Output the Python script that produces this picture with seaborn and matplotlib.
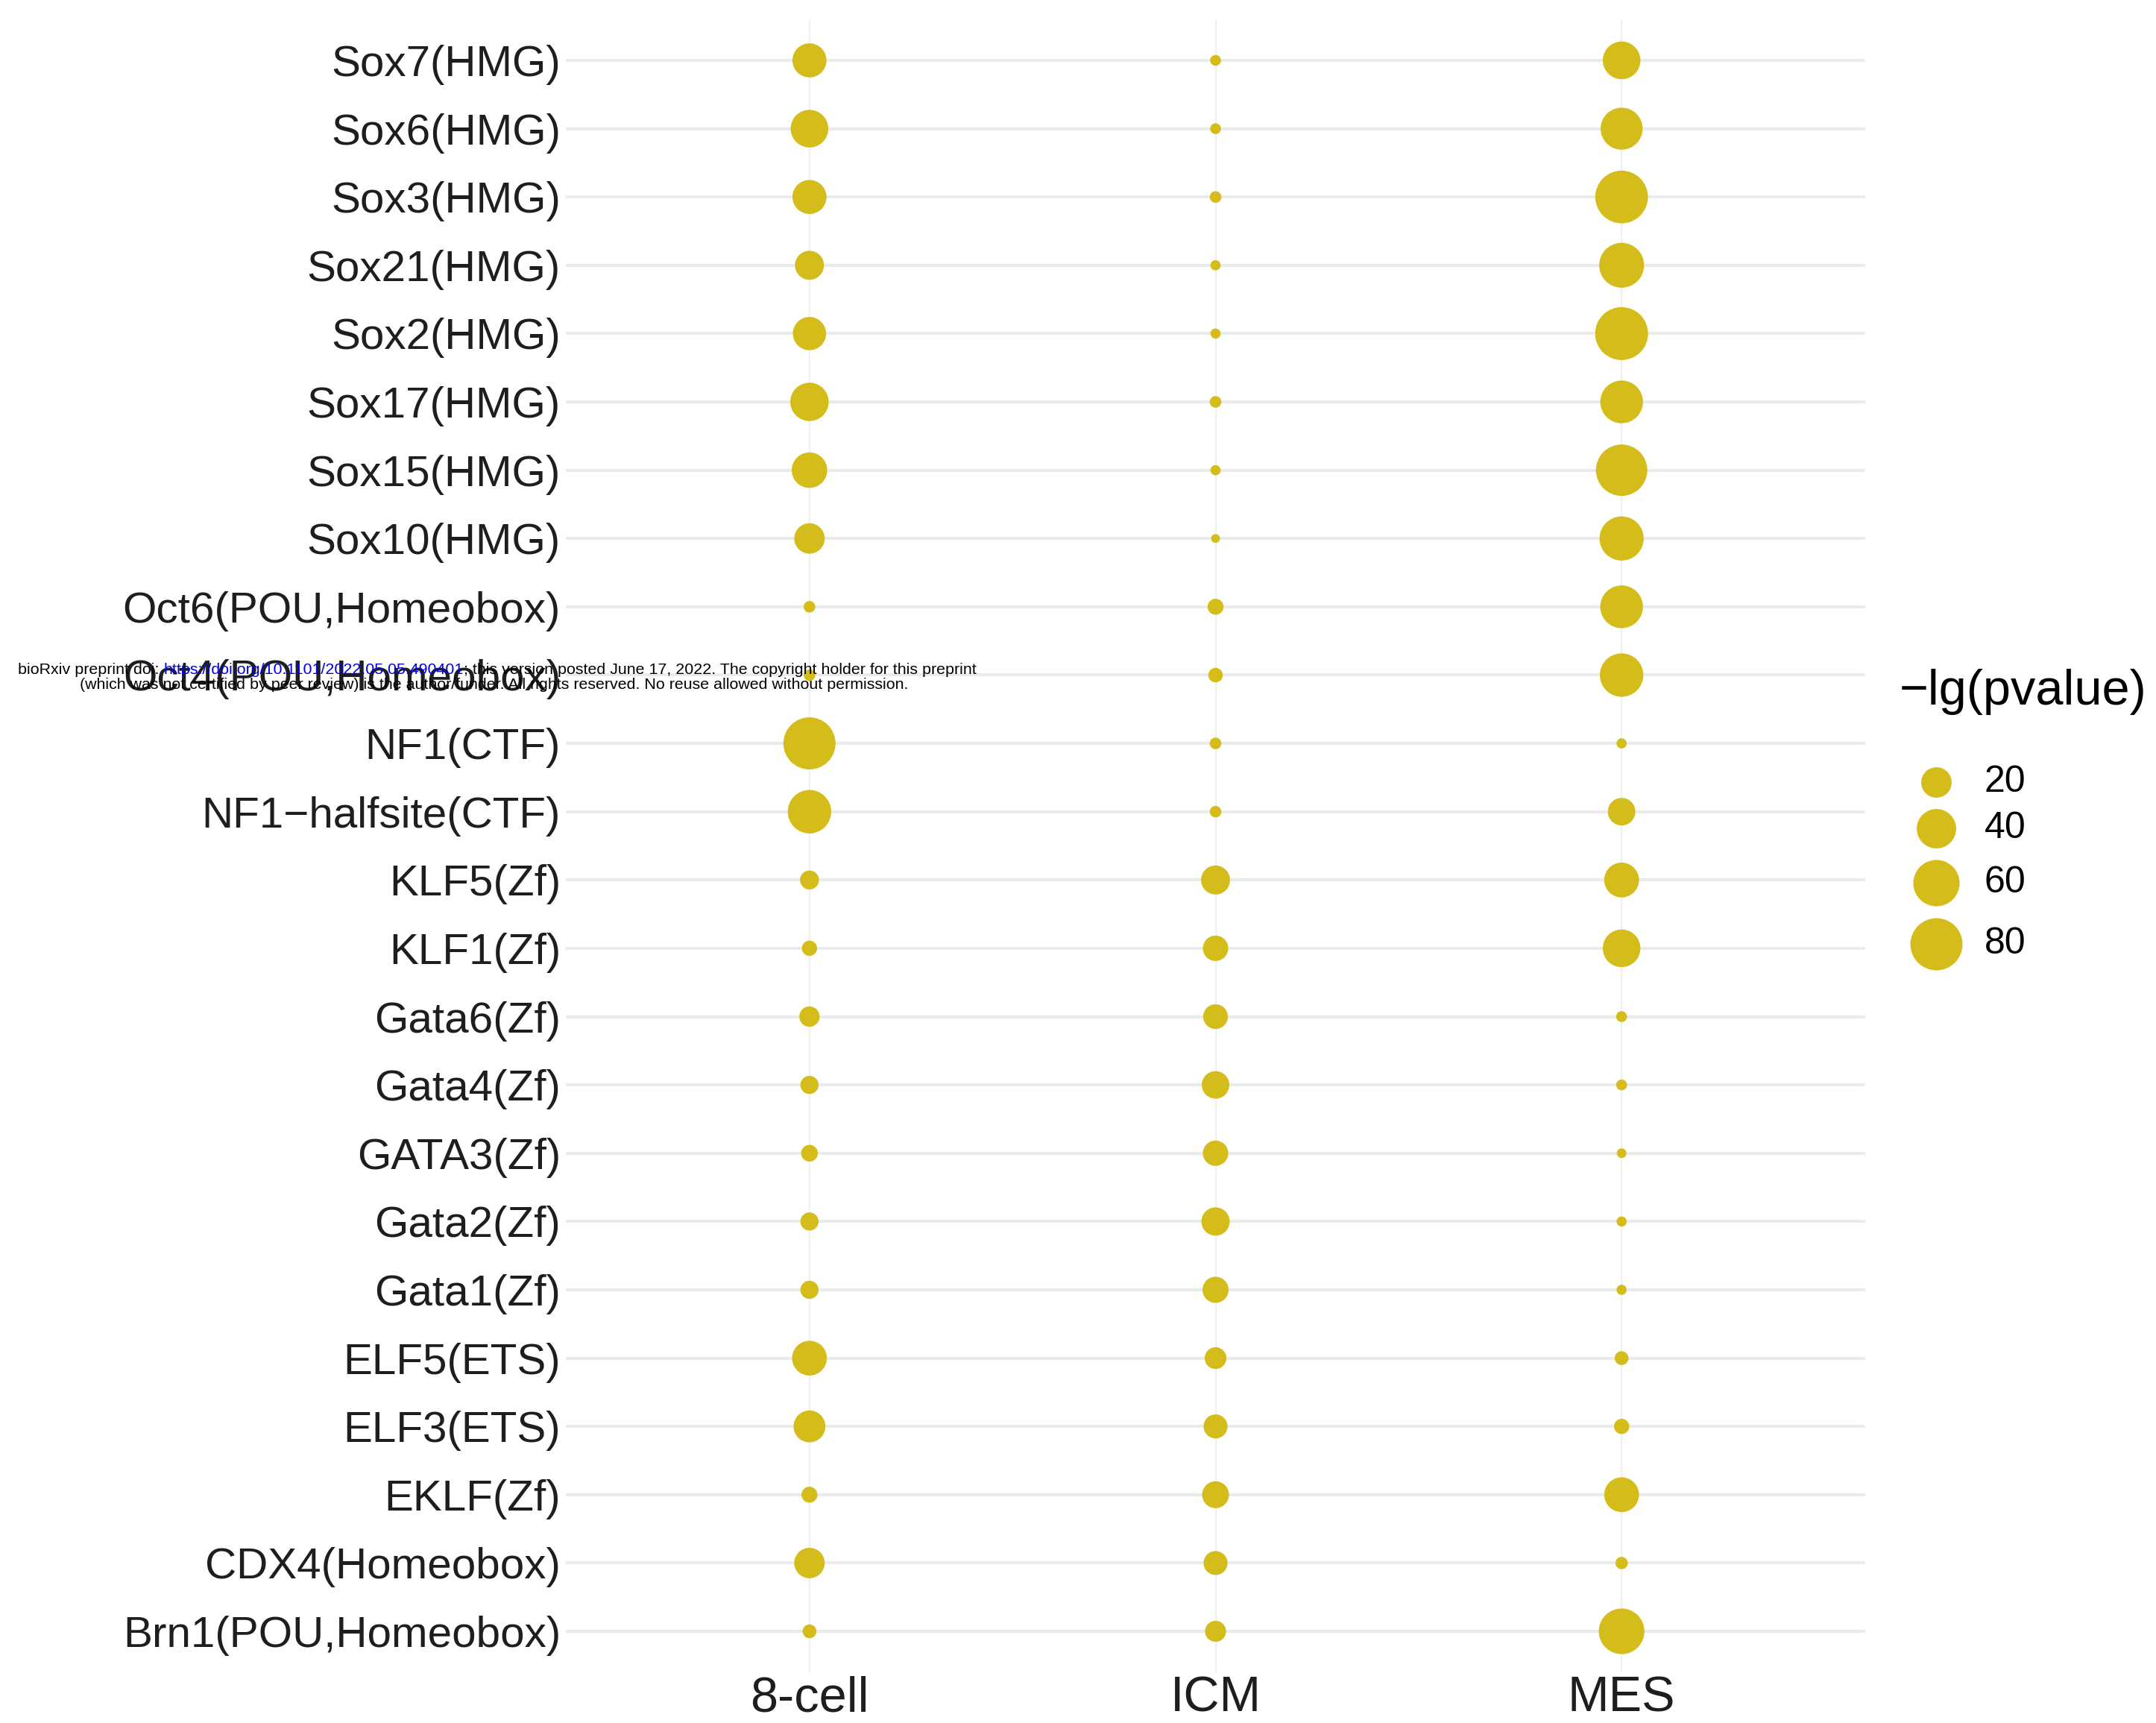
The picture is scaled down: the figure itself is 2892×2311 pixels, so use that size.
import numpy as np
import pandas as pd
import matplotlib
matplotlib.use("Agg")
import matplotlib.pyplot as plt
import matplotlib.colors as mcolors
from matplotlib.lines import Line2D
from matplotlib.offsetbox import TextArea, HPacker, AnchoredOffsetbox
from matplotlib.font_manager import FontProperties, findfont
from matplotlib.textpath import TextToPath
import seaborn as sns

# ---- data: motif enrichment, -lg(p) per developmental stage ----
motifs = [
    "Sox7(HMG)", "Sox6(HMG)", "Sox3(HMG)", "Sox21(HMG)", "Sox2(HMG)",
    "Sox17(HMG)", "Sox15(HMG)", "Sox10(HMG)", "Oct6(POU,Homeobox)",
    "Oct4(POU,Homeobox)", "NF1(CTF)", "NF1\u2212halfsite(CTF)", "KLF5(Zf)",
    "KLF1(Zf)", "Gata6(Zf)", "Gata4(Zf)", "GATA3(Zf)", "Gata2(Zf)",
    "Gata1(Zf)", "ELF5(ETS)", "ELF3(ETS)", "EKLF(Zf)", "CDX4(Homeobox)",
    "Brn1(POU,Homeobox)",
]
stages = ["8-cell", "ICM", "MES"]
neglog_p_8cell = [27.2, 35.5, 27.2, 17.4, 25.5, 37.3, 30.4, 20.0, 0.36, 0.36,
                  80.0, 51.2, 4.4, 1.8, 5.7, 3.75, 2.7, 3.75, 3.75, 28.8,
                  22.7, 2.2, 20.0, 1.1]
neglog_p_icm = [0.2, 0.2, 0.36, 0.1, 0.1, 0.36, 0.1, 0.02, 2.2, 1.4,
                0.36, 0.36, 17.4, 11.7, 10.8, 15.0, 11.7, 16.2, 12.8, 7.2,
                9.8, 13.9, 9.8, 6.4]
neglog_p_mes = [35.5, 47.0, 82.0, 55.5, 83.0, 49.1, 77.3, 53.3, 49.1, 51.2,
                0.1, 15.0, 28.8, 35.5, 0.2, 0.2, 0.05, 0.1, 0.1, 1.1,
                1.8, 28.8, 0.56, 57.8]
legend_breaks = [20, 40, 60, 80]
legend_title = "\u2212lg(pvalue)"

df = pd.DataFrame({
    "stage": np.repeat(stages, len(motifs)),
    "motif": motifs * len(stages),
    "neglog_p": neglog_p_8cell + neglog_p_icm + neglog_p_mes,
})

# ---- style ----
DPI = 200
DOT_COLOR = "#D4BD1B"
TEXT_COLOR = "#1E1E1E"
sns.set_style("white")
plt.rcParams["font.family"] = ["Liberation Sans", "DejaVu Sans"]

# point diameters (pt): smallest and largest value
D_MIN_PT = 11.8 * 72 / DPI
D_MAX_PT = 71.0 * 72 / DPI
vmin, vmax = df["neglog_p"].min(), df["neglog_p"].max()


def _diam(v):
    frac = np.clip((np.asarray(v, dtype=float) - vmin) / (vmax - vmin), 0, 1)
    return D_MIN_PT + (D_MAX_PT - D_MIN_PT) * np.sqrt(frac)


def _area(v):
    return _diam(v) ** 2


def _area_inv(a):
    a = np.clip(np.asarray(a, dtype=float), D_MIN_PT ** 2, D_MAX_PT ** 2)
    frac = ((np.sqrt(a) - D_MIN_PT) / (D_MAX_PT - D_MIN_PT)) ** 2
    return vmin + frac * (vmax - vmin)


size_norm = mcolors.FuncNorm((_area, _area_inv), vmin=vmin, vmax=vmax)

fig = plt.figure(figsize=(2892 / DPI, 2311 / DPI), dpi=DPI)
W, H = 2892, 2311
ax_l, ax_r, ax_t, ax_b = 759, 2502, 26, 2243
ax = fig.add_axes([ax_l / W, 1 - ax_b / H, (ax_r - ax_l) / W, (ax_b - ax_t) / H])

sns.scatterplot(
    data=df, x="stage", y="motif", size="neglog_p",
    sizes=(D_MIN_PT ** 2, D_MAX_PT ** 2), size_norm=size_norm,
    color=DOT_COLOR, linewidth=0, legend=False, ax=ax, zorder=3,
)

ax.set_xlim(-0.6, len(stages) - 1 + 0.6)
ax.set_ylim(len(motifs) - 1 + 0.6, -0.6)
ax.set_xlabel("")
ax.set_ylabel("")
for s in ax.spines.values():
    s.set_visible(False)
ax.set_axisbelow(True)
ax.grid(False)
ax.xaxis.grid(True, color="#EDEEF2", linewidth=0.6)
ax.yaxis.grid(True, color="#EAECEC", linewidth=1.45)
ax.tick_params(axis="y", length=0, pad=2.5, labelsize=21, labelcolor=TEXT_COLOR)
ax.tick_params(axis="x", length=0, pad=1.5, labelsize=24, labelcolor=TEXT_COLOR)

# ---- size legend ----
fig.text(2548 / W, 1 - 928 / H, legend_title, ha="left", va="center",
         fontsize=24, color="black")
key_x = 2597
lab_x = 2662
y_px = 1049
diams_px = [float(_diam(v)) * DPI / 72 for v in legend_breaks]
for i, (v, dpx) in enumerate(zip(legend_breaks, diams_px)):
    if i > 0:
        y_px += (diams_px[i - 1] + dpx) / 2 + 15.5
    fig.add_artist(Line2D([key_x / W], [1 - y_px / H], marker="o",
                          markersize=float(_diam(v)), color=DOT_COLOR,
                          markeredgewidth=0, linestyle="none",
                          transform=fig.transFigure))
    fig.text(lab_x / W, 1 - y_px / H, str(v), ha="left", va="center",
             fontsize=18, color="black")

# ---- preprint notice ----
try:
    findfont(FontProperties(family="Liberation Sans Narrow"), fallback_to_default=False)
    note_family = "Liberation Sans Narrow"
except Exception:
    note_family = "Liberation Sans"

line1 = ["bioRxiv preprint doi: ", "https://doi.org/10.1101/2022.05.05.490401",
         "; this version posted June 17, 2022. The copyright holder for this preprint"]
line1_colors = ["black", "#0000EE", "black"]
line2 = "(which was not certified by peer review) is the author/funder. All rights reserved. No reuse allowed without permission."

fp = FontProperties(family=note_family, size=10)
w10, _, _ = TextToPath().get_text_width_height_descent("".join(line1), fp, ismath=False)
note_size = 10 * (1282 * 72 / DPI) / w10

areas = [TextArea(t, textprops=dict(color=c, fontsize=note_size, family=note_family))
         for t, c in zip(line1, line1_colors)]
box1 = AnchoredOffsetbox(loc="center", child=HPacker(children=areas, align="baseline", pad=0, sep=0),
                         bbox_to_anchor=(667 / W, 1 - 899 / H), bbox_transform=fig.transFigure,
                         frameon=False, pad=0, borderpad=0)
fig.add_artist(box1)
fig.text(663 / W, 1 - 919 / H, line2, ha="center", va="center",
         fontsize=note_size, family=note_family, color="black")

fig.savefig("out.png", dpi=DPI, facecolor="white")
